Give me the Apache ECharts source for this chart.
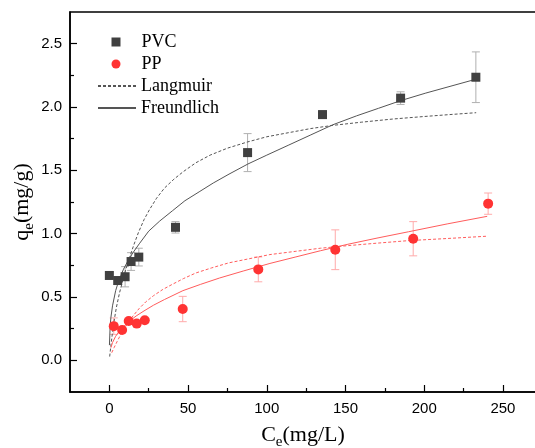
<!DOCTYPE html>
<html>
<head>
<meta charset="utf-8">
<script src="https://cdn.jsdelivr.net/npm/echarts@6/dist/echarts.min.js"></script>
<style>html,body{margin:0;padding:0;background:#fff}#c{width:535px;height:448px}</style>
</head>
<body>
<div id="c"></div>
<script>
// ---- data ----
const pvcC   = [0, 5.3, 10, 13.8, 18.7, 42, 87.8, 135.4, 185, 232.8];
const pvcQ   = [0.67, 0.63, 0.66, 0.78, 0.815, 1.05, 1.64, 1.94, 2.07, 2.235];
const pvcErr = [0, 0.03, 0.08, 0.07, 0.07, 0.045, 0.15, 0.03, 0.05, 0.2];

const ppC   = [2.8, 8.1, 12.3, 17.4, 22.5, 46.6, 94.6, 143.5, 193, 240.6];
const ppQ   = [0.27, 0.24, 0.31, 0.29, 0.316, 0.405, 0.718, 0.873, 0.96, 1.237];
const ppErr = [0.065, 0, 0, 0.02, 0, 0.1, 0.098, 0.157, 0.135, 0.084];

// fitted curves
const pvcLangC = [0.2, 1, 2, 3, 4.5, 6.4, 8.5, 10.5, 12.8, 15.5, 18.5, 22, 25.5, 30, 35, 41, 47, 55, 64, 75, 88, 100, 115, 128, 142, 160, 180, 200, 216, 233];
const pvcLangQ = [0.03, 0.12, 0.22, 0.31, 0.42, 0.53, 0.63, 0.72, 0.81, 0.91, 1.01, 1.11, 1.19, 1.28, 1.36, 1.43, 1.49, 1.56, 1.62, 1.675, 1.725, 1.765, 1.80, 1.83, 1.855, 1.88, 1.905, 1.925, 1.94, 1.955];
const pvcFreuC = [0.05, 0.5, 1, 2, 4, 6, 9, 12, 15, 19, 25, 32, 40, 48, 57, 66, 76, 88, 100, 114, 128, 142, 157, 171, 185, 201, 217, 233];
const pvcFreuQ = [0.12, 0.27, 0.34, 0.43, 0.55, 0.63, 0.72, 0.79, 0.85, 0.92, 1.02, 1.10, 1.18, 1.26, 1.33, 1.40, 1.47, 1.55, 1.62, 1.70, 1.78, 1.86, 1.93, 1.99, 2.05, 2.11, 2.165, 2.22];
const ppLangC = [1.5, 3, 5, 7.5, 10, 12.5, 15, 19, 23, 28, 34, 40, 47, 55, 65, 76, 88, 102, 118, 134, 151, 170, 190, 215, 240];
const ppLangQ = [0.06, 0.10, 0.15, 0.21, 0.26, 0.31, 0.35, 0.41, 0.46, 0.51, 0.56, 0.60, 0.645, 0.69, 0.73, 0.77, 0.80, 0.835, 0.86, 0.885, 0.905, 0.925, 0.945, 0.962, 0.98];
const ppFreuC = [1, 2, 4, 6, 9, 12.8, 17, 22, 28, 35, 46.7, 58, 70, 85, 102, 118, 134, 151, 170, 190, 215, 240];
const ppFreuQ = [0.10, 0.14, 0.19, 0.225, 0.265, 0.31, 0.35, 0.39, 0.435, 0.48, 0.55, 0.60, 0.65, 0.705, 0.765, 0.815, 0.865, 0.915, 0.965, 1.015, 1.078, 1.137];

const xMajor = [0, 50, 100, 150, 200, 250];
const xMinor = [25, 75, 125, 175, 225];
const yMajor = [0, 0.5, 1.0, 1.5, 2.0, 2.5];
const yMinor = [0.25, 0.75, 1.25, 1.75, 2.25];

const markerNames = ['PVC', 'PP'];
const fitNames = ['Langmuir', 'Freundlich'];

const zip = (a, b) => a.map((v, i) => [v, b[i]]);
const zip3 = (a, b, c) => a.map((v, i) => [v, b[i], c[i]]);

function errRender(color) {
  return function (params, api) {
    const x = api.value(0), y = api.value(1), e = api.value(2);
    if (!e) return null;
    const top = api.coord([x, y + e]);
    const bot = api.coord([x, y - e]);
    const hw = 4;
    const st = { stroke: color, lineWidth: 1 };
    return {
      type: 'group',
      children: [
        { type: 'line', shape: { x1: top[0], y1: top[1], x2: bot[0], y2: bot[1] }, style: st },
        { type: 'line', shape: { x1: top[0] - hw, y1: top[1], x2: top[0] + hw, y2: top[1] }, style: st },
        { type: 'line', shape: { x1: bot[0] - hw, y1: bot[1], x2: bot[0] + hw, y2: bot[1] }, style: st }
      ]
    };
  };
}

const PVC_COL = '#404040', PP_COL = '#ff3333';
const PVC_LINE = '#555555', PP_LINE = '#ff5c5c';

const chart = echarts.init(document.getElementById('c'), null, { renderer: 'canvas' });
const axisFont = { fontFamily: 'Liberation Sans', fontSize: 15, color: '#000' };
const nameRich = {
  b: { fontFamily: 'Liberation Serif', fontSize: 22, color: '#000', verticalAlign: 'bottom', padding: [0, 0, 4, 0] },
  s: { fontFamily: 'Liberation Serif', fontSize: 15, color: '#000', verticalAlign: 'bottom' }
};
const legendText = { fontFamily: 'Liberation Serif', fontSize: 18, color: '#000' };
const hidden = { color: 'rgba(0,0,0,0)', borderColor: 'rgba(0,0,0,0)', borderWidth: 0 };

const minor = (vals) => ({
  type: 'value',
  axisLine: { show: false, onZero: false },
  axisTick: { show: true, inside: true, length: 4, customValues: vals, lineStyle: { color: '#000', width: 1.2 } },
  axisLabel: { show: false }, splitLine: { show: false }
});

const curve = (name, cs, qs, color, dashed) => ({
  name, type: 'line', data: zip(cs, qs), smooth: false, symbol: 'none', showSymbol: false,
  lineStyle: { color, width: 1, type: dashed ? [3, 2] : 'solid' }, itemStyle: { color }, z: 2
});

chart.setOption({
  animation: false,
  backgroundColor: '#fff',
  grid: { left: 70, top: 12, right: -1, bottom: 56, containLabel: false, outerBoundsMode: 'none',
          show: true, borderColor: '#000', borderWidth: 1.5, backgroundColor: 'transparent' },
  legend: [
    {
      data: markerNames,
      orient: 'vertical', left: 111.5, top: 33, padding: 0,
      itemWidth: 9, itemHeight: 9, itemGap: 4,
      textStyle: { ...legendText, padding: [0, 0, 0, 16] },
      selectedMode: false
    },
    {
      data: fitNames.map(n => ({ name: n, itemStyle: hidden })),
      orient: 'vertical', left: 97, top: 77, padding: 0,
      itemWidth: 38, itemHeight: 10, itemGap: 4,
      textStyle: legendText,
      selectedMode: false
    }
  ],
  xAxis: [
    {
      type: 'value', position: 'bottom', min: -25, max: 271,
      axisLine: { show: true, onZero: false, lineStyle: { color: '#000', width: 1.5 } },
      axisTick: { show: true, inside: true, length: 7, customValues: xMajor, lineStyle: { color: '#000', width: 1.2 } },
      axisLabel: { ...axisFont, margin: 9, customValues: xMajor },
      splitLine: { show: false },
      name: '{b|C}{s|e}{b|(mg/L)}', nameLocation: 'middle', nameGap: 32, nameMoveOverlap: false,
      nameTextStyle: { rich: nameRich }
    },
    Object.assign(minor(xMinor), { position: 'bottom', min: -25, max: 271 })
  ],
  yAxis: [
    {
      type: 'value', position: 'left', min: -0.25, max: 2.75,
      axisLine: { show: true, onZero: false, lineStyle: { color: '#000', width: 1.5 } },
      axisTick: { show: true, inside: true, length: 7, customValues: yMajor, lineStyle: { color: '#000', width: 1.2 } },
      axisLabel: { ...axisFont, margin: 8, customValues: yMajor, formatter: v => v.toFixed(1) },
      splitLine: { show: false },
      name: '{b|q}{s|e}{b|(mg/g)}', nameLocation: 'middle', nameGap: 33, nameRotate: 90, nameMoveOverlap: false,
      nameTextStyle: { rich: nameRich }
    },
    Object.assign(minor(yMinor), { position: 'left', min: -0.25, max: 2.75 })
  ],
  series: [
    { name: 'errPVC', type: 'custom', renderItem: errRender('#b0b0b0'), data: zip3(pvcC, pvcQ, pvcErr), z: 1, silent: true },
    { name: 'errPP', type: 'custom', renderItem: errRender('#ffaaaa'), data: zip3(ppC, ppQ, ppErr), z: 1, silent: true },
    curve('Langmuir', pvcLangC, pvcLangQ, PVC_LINE, true),
    curve('Freundlich', pvcFreuC, pvcFreuQ, PVC_LINE, false),
    curve('Langmuir PP', ppLangC, ppLangQ, PP_LINE, true),
    curve('Freundlich PP', ppFreuC, ppFreuQ, PP_LINE, false),
    { name: 'PVC', type: 'scatter', data: zip(pvcC, pvcQ), symbol: 'rect', symbolSize: 9,
      itemStyle: { color: PVC_COL, opacity: 1 }, z: 3 },
    { name: 'PP', type: 'scatter', data: zip(ppC, ppQ), symbol: 'circle', symbolSize: 10,
      itemStyle: { color: PP_COL, opacity: 1 }, z: 3 }
  ]
});
</script>
</body>
</html>
